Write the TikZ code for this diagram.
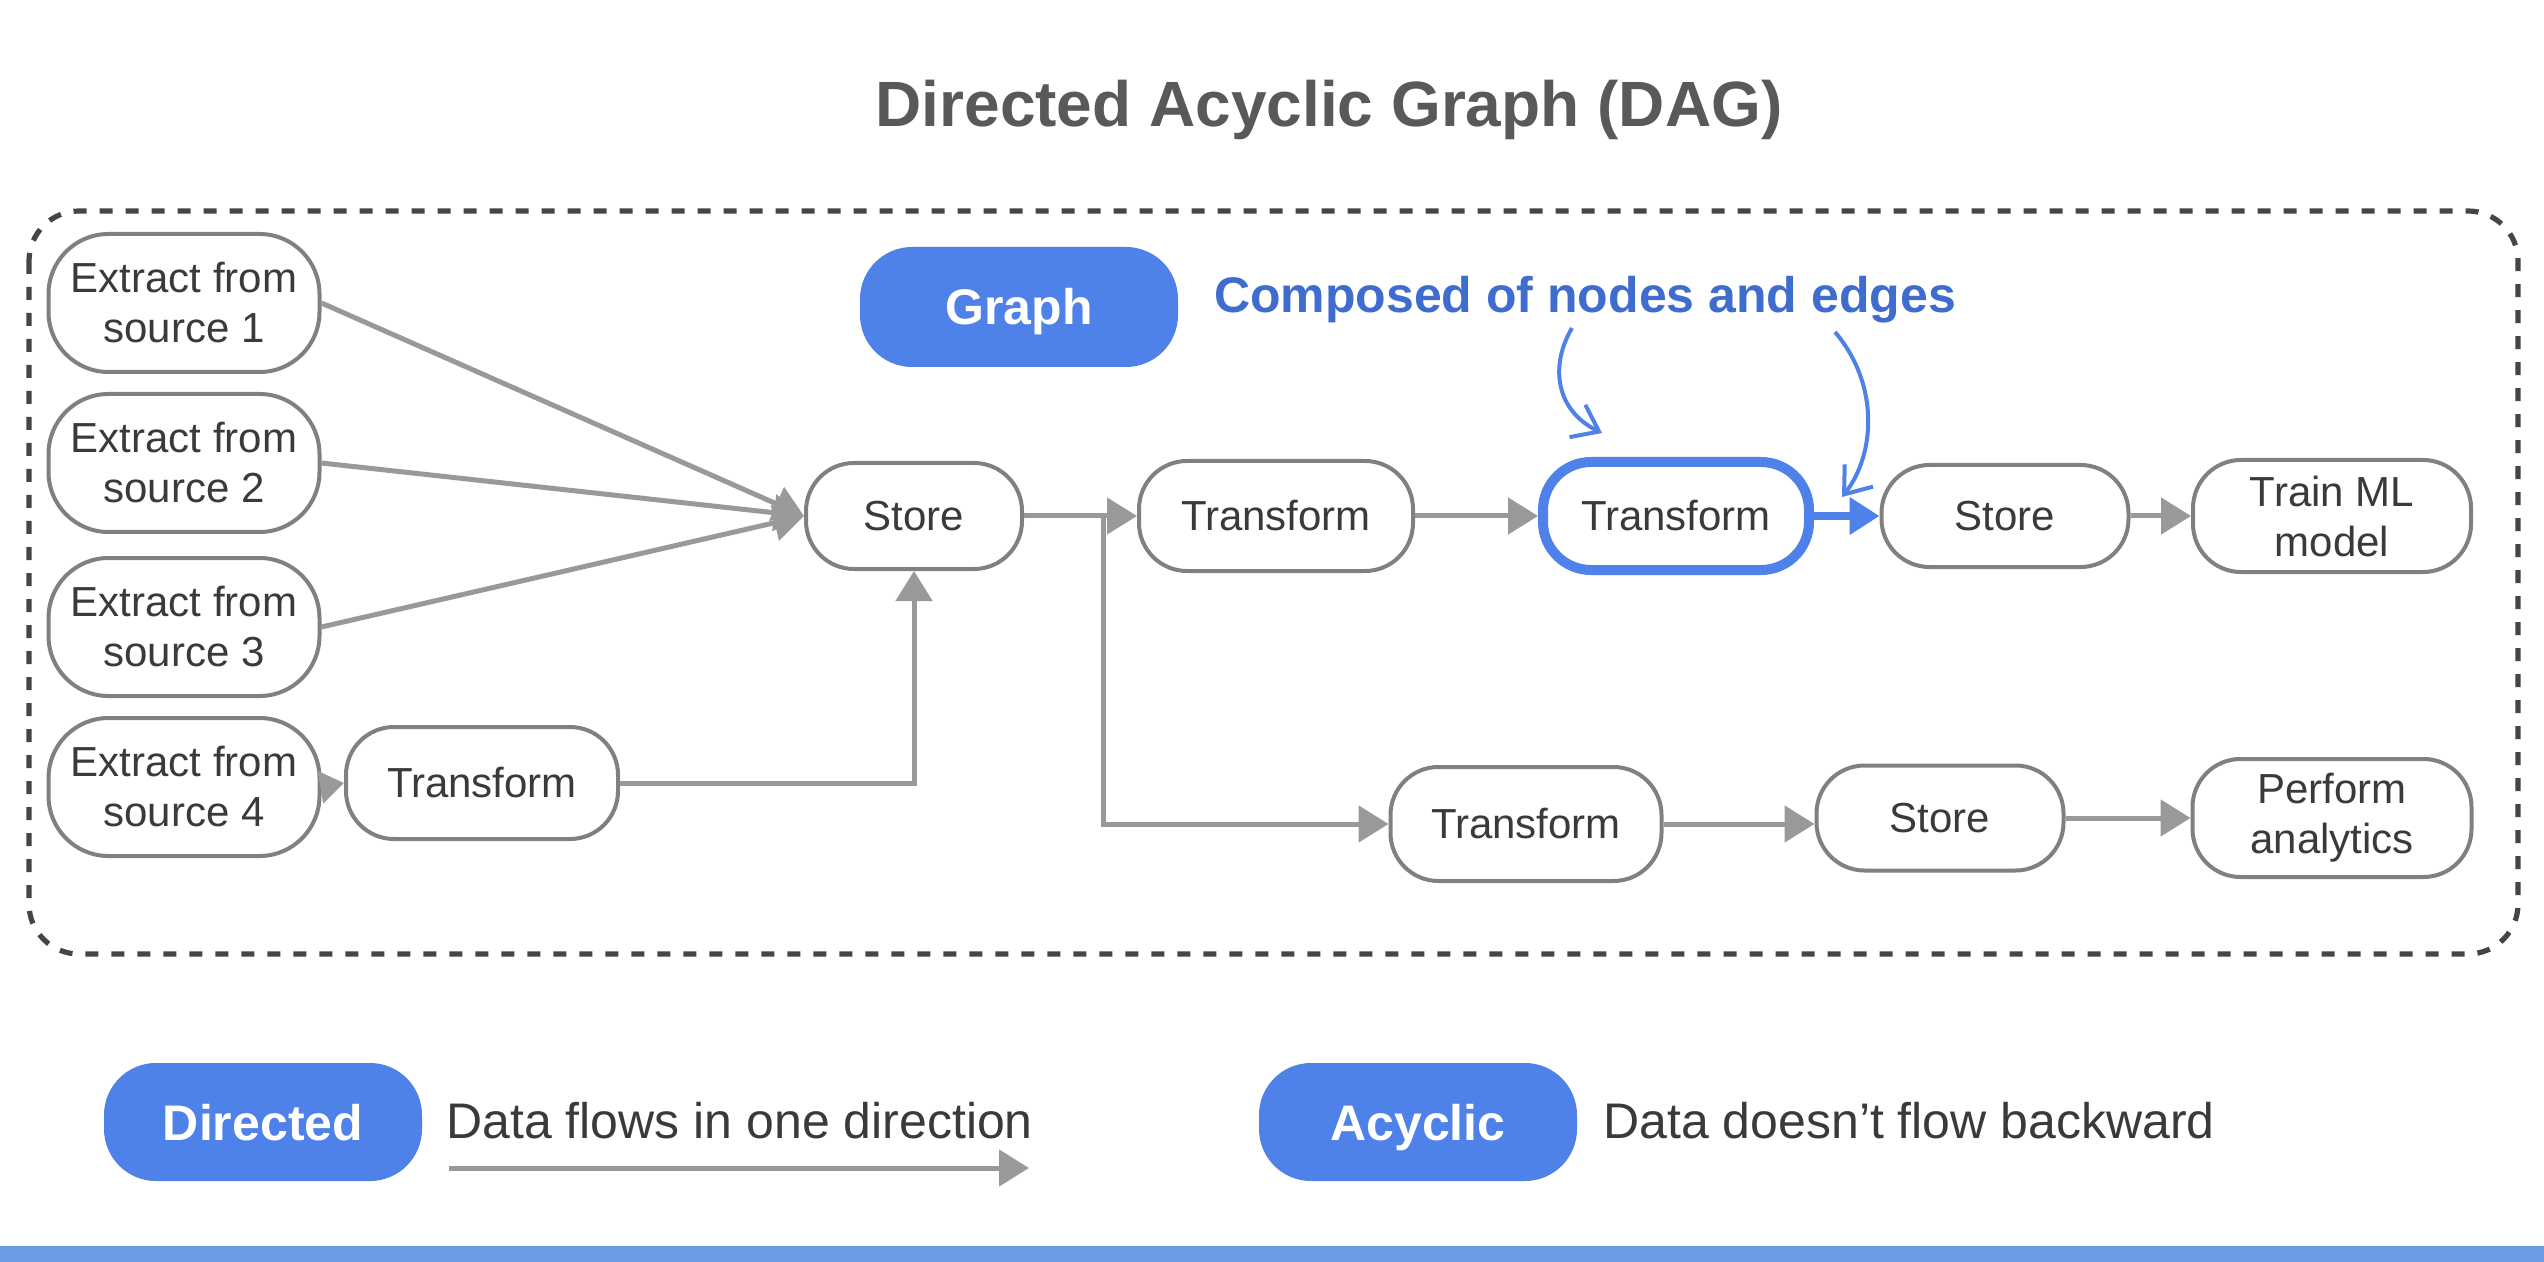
\documentclass[tikz,border=0pt]{standalone}
\usepackage{fontspec}
\setmainfont{Liberation Sans}
\usetikzlibrary{arrows.meta}
\definecolor{boxgray}{HTML}{808080}
\definecolor{edgegray}{HTML}{999999}
\definecolor{txtgray}{HTML}{3A3A3A}
\definecolor{titlegray}{HTML}{595959}
\definecolor{dashgray}{HTML}{454545}
\definecolor{gblue}{HTML}{4F82E8}
\definecolor{tblue}{HTML}{3F6CCF}
\definecolor{barblue}{HTML}{6D9BE3}
\newcommand\myNodeFont{\fontsize{21}{25}\selectfont}
\newcommand\myPillFont{\fontsize{25}{30}\selectfont\bfseries}
\newcommand\myLegFont{\fontsize{25}{30}\selectfont}
\tikzset{
  box/.style={draw=boxgray, line width=2pt, rounded corners=24pt, fill=white,
    align=center, text=txtgray, font=\myNodeFont, inner sep=0pt},
  ext/.style={box, rounded corners=30pt, minimum width=135.5pt, minimum height=69pt},
  edge/.style={draw=edgegray, line width=2.5pt, -{Triangle[length=15pt,width=18pt]}},
  pill/.style={fill=gblue, rounded corners=26pt, text=white, font=\myPillFont,
    minimum width=159pt, minimum height=60pt, inner sep=0pt, text height=18pt, text depth=0pt},
  callout/.style={draw=gblue, line width=2pt, -{Straight Barb[length=12pt,width=18pt,line width=2pt]}},
}
\begin{document}
\begin{tikzpicture}[x=0.5pt, y=-0.5pt]
\useasboundingbox (0,0) rectangle (2544,1262);
\fill[white] (0,0) rectangle (2544,1262);

% title
\node[font=\fontsize{32}{38}\selectfont\bfseries, text=titlegray] (title) at (1329,110) {Directed Acyclic Graph (DAG)};

% dashed frame
\draw[dashgray, line width=2.6pt, dash pattern=on 6.5pt off 6.5pt, rounded corners=25pt]
  (29,211) rectangle (2518,954);

% graph label
\node[pill] (graph) at (1019,307) {Graph};
\node[font=\fontsize{25}{30}\selectfont\bfseries, text=tblue] (comp) at (1585,300) {Composed of nodes and edges};

% nodes
\node[ext] (e1) at (184,303) {Extract from\\source 1};
\node[ext] (e2) at (184,463) {Extract from\\source 2};
\node[ext] (e3) at (184,627) {Extract from\\source 3};
\node[ext] (e4) at (184,787) {Extract from\\source 4};
\node[box, minimum width=136pt, minimum height=56pt] (tl) at (482,783) {Transform};
\node[box, minimum width=108pt, minimum height=53pt] (s1) at (914,516) {Store};
\node[box, minimum width=137pt, minimum height=55pt] (t2) at (1276,516) {Transform};
\node[box, draw=gblue, line width=5pt, minimum width=133pt, minimum height=54pt] (t3) at (1676,516) {Transform};
\node[box, minimum width=123.5pt, minimum height=51pt] (s2) at (2005,516) {Store};
\node[box, minimum width=139pt, minimum height=56pt] (ml) at (2332,516) {Train ML\\model};
\node[box, minimum width=135.5pt, minimum height=57pt] (t4) at (1526,824) {Transform};
\node[box, minimum width=123.5pt, minimum height=52.5pt] (s3) at (1940,818) {Store};
\node[box, minimum width=139.5pt, minimum height=59pt] (pa) at (2332,818) {Perform\\analytics};

% edges
\draw[edge] (e1.east) -- (s1.west);
\draw[edge] (e2.east) -- (s1.west);
\draw[edge] (e3.east) -- (s1.west);
\draw[edge, -{Triangle[length=12pt,width=16pt]}] (e4.east) -- (tl.west);
\draw[edge] (tl.east) -| (s1.south);
\draw[edge] (s1.east) -- (t2.west);
\coordinate (j) at (1103,516);
\draw[edge] (j) |- (t4.west);
\draw[edge] (t2.east) -- (t3.west);
\draw[draw=gblue, line width=4pt, -{Triangle[length=15pt,width=18pt]}, gblue] (t3.east) -- (s2.west);
\draw[edge] (s2.east) -- (ml.west);
\draw[edge] (t4.east) -- (s3.west |- t4.east);
\draw[edge] (s3.east) -- (pa.west);

% callout arrows
\coordinate (a1s) at (1572,328);
\coordinate (a1e) at (1602,433);
\coordinate (a2s) at (1835,332);
\coordinate (a2e) at (1842,497);
\draw[callout] (a1s) .. controls (1550,365) and (1555,410) .. (a1e);
\draw[callout] (a2s) .. controls (1880,385) and (1875,455) .. (a2e);

% legend
\node[pill, minimum height=59pt] (dir) at (263,1122) {Directed};
\node[font=\myLegFont, text=txtgray, anchor=west, inner sep=0pt] (dtxt) at (446,1121) {Data flows in one direction};
\coordinate (la) at (449,1168);
\coordinate (lb) at (1029,1168);
\draw[edge] (la) -- (lb);
\node[pill, minimum height=59pt] (acy) at (1418,1122) {Acyclic};
\node[font=\myLegFont, text=txtgray, anchor=west, inner sep=0pt] (atxt) at (1603,1121) {Data doesn’t flow backward};

% bottom bar
\fill[barblue] (0,1246) rectangle (2544,1262);
\end{tikzpicture}
\end{document}
